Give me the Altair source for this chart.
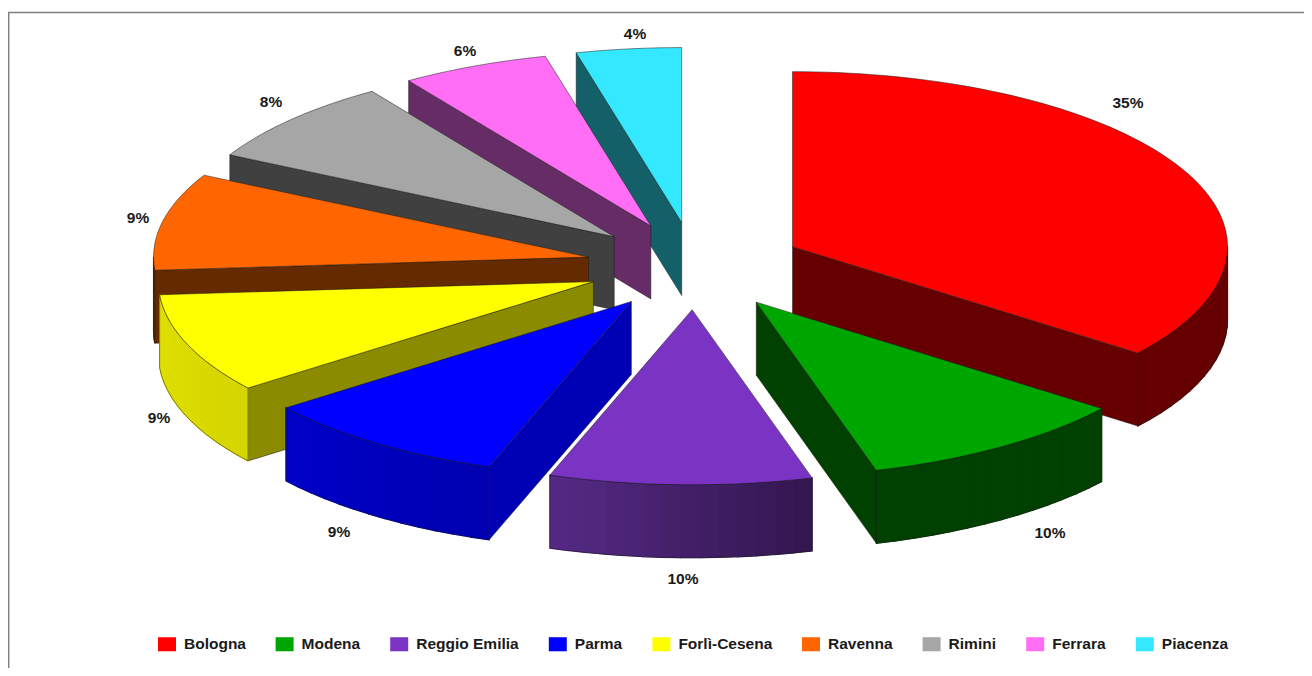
import math
import altair as alt

# ---- data ----
REGIONS = ["Bologna", "Modena", "Reggio Emilia", "Parma", "Forlì-Cesena", "Ravenna", "Rimini", "Ferrara", "Piacenza"]
SHARES = [35.4, 10.15, 9.75, 9.3, 9.2, 8.95, 7.85, 5.5, 3.9]

# ---- styles ----
TOP = ["#ff0000", "#00a600", "#7b33c4", "#0000ff", "#ffff00", "#ff6600", "#a6a6a6", "#ff6ef5", "#33e8ff"]
CUT = ["#660000", "#004000", "#33164f", "#0000b4", "#8b8b00", "#662a00", "#404040", "#662c66", "#146068"]
WALL_LEFT = ["#660000", "#004000", "#552a85", "#0000c8", "#dede00", "#662a00", "#404040", "#662c66", "#146068"]
WALL_RIGHT = ["#660000", "#004000", "#33164f", "#0000b0", "#d4d400", "#662a00", "#404040", "#662c66", "#146068"]

# ---- layout of the tilted pie ----
CX, CY, RX, RY, DEPTH, EXPLODE = 695, 266, 435, 175, 73, 0.25
PAINT_ORDER = [8, 7, 6, 5, 4, 3, 0, 1, 2]
LABEL_POS = [(1128, 102.5), (1050, 533), (683, 579), (339, 532), (159, 418), (138, 218), (271, 102), (465, 51), (635, 34)]
PROJ = dict(type="identity", scale=1, translate=[-8, -8])


def lerp_colour(c1, c2, f):
    a = [int(c1[i:i + 2], 16) for i in (1, 3, 5)]
    b = [int(c2[i:i + 2], 16) for i in (1, 3, 5)]
    return "#" + "".join(f"{round(p + (q - p) * f):02x}" for p, q in zip(a, b))


def feature(ring, fill, stroke, sw, fo=1):
    ring = [list(p) for p in ring]
    ring.append(ring[0])
    return {
        "type": "Feature",
        "geometry": {"type": "Polygon", "coordinates": [ring]},
        "properties": {"fill": fill, "stroke": stroke, "sw": sw, "fo": fo},
    }


def slice_features(i, start, end):
    mid = (start + end) / 2
    ax = CX + EXPLODE * RX * math.sin(mid)
    ay = CY - EXPLODE * RY * math.cos(mid)
    pos = lambda t: (ax + RX * math.sin(t), ay - RY * math.cos(t))
    down = lambda p: (p[0], p[1] + DEPTH)
    apex = (ax, ay)
    n = max(6, int((end - start) / math.radians(1.5)))
    arc = [pos(start + (end - start) * k / n) for k in range(n + 1)]
    edge = "#1a1a1a"
    out = []
    # only the cut faces that turn towards the viewer
    if math.sin(start) < -1e-6:
        out.append(feature([apex, arc[0], down(arc[0]), down(apex)], CUT[i], edge, 0.5))
    if math.sin(end) > 1e-6:
        out.append(feature([apex, arc[-1], down(arc[-1]), down(apex)], CUT[i], edge, 0.5))
    # outer wall: only the part on the near half of the rim
    w0, w1 = max(start, math.pi / 2), min(end, 3 * math.pi / 2)
    if w1 > w0:
        m = max(4, int((w1 - w0) / math.radians(2.5)))
        rim = [pos(w0 + (w1 - w0) * k / m) for k in range(m + 1)]
        xs = [p[0] for p in rim]
        lo, hi = min(xs), max(xs)
        for k in range(m):
            p, q = rim[k], rim[k + 1]
            f = ((p[0] + q[0]) / 2 - lo) / max(hi - lo, 1)
            col = lerp_colour(WALL_LEFT[i], WALL_RIGHT[i], f)
            out.append(feature([p, q, down(q), down(p)], col, col, 1.2))
        out.append(feature(rim + [down(p) for p in reversed(rim)], "#000000", edge, 0.5, 0))
    # top face
    out.append(feature([apex] + arc, TOP[i], edge, 0.5))
    return out


angles = []
acc = 0.0
total = sum(SHARES)
for s in SHARES:
    a0 = acc / total * 2 * math.pi
    acc += s
    angles.append((a0, acc / total * 2 * math.pi))

features = []
for i in PAINT_ORDER:
    features.extend(slice_features(i, *angles[i]))

pie = (
    alt.Chart(alt.Data(values=features))
    .mark_geoshape()
    .encode(
        fill=alt.Fill("properties.fill:N", scale=None, legend=None),
        stroke=alt.Stroke("properties.stroke:N", scale=None, legend=None),
        strokeWidth=alt.StrokeWidth("properties.sw:Q", scale=None, legend=None),
        fillOpacity=alt.FillOpacity("properties.fo:Q", scale=None, legend=None),
    )
    .project(**PROJ)
)

frame = (
    alt.Chart(alt.Data(values=[{
        "type": "Feature",
        "geometry": {"type": "LineString", "coordinates": [[8.7, 700], [8.7, 12.5], [1330, 12.5]]},
        "properties": {},
    }]))
    .mark_geoshape(filled=False, stroke="#808080", strokeWidth=1.5)
    .project(**PROJ)
)

labels = (
    alt.Chart(alt.Data(values=[
        {"t": f"{round(s)}%", "lon": p[0], "lat": p[1]} for s, p in zip(SHARES, LABEL_POS)
    ]))
    .mark_text(font="Liberation Sans", fontWeight="bold", fontSize=15.5, color="#1a1a1a", baseline="middle")
    .encode(longitude="lon:Q", latitude="lat:Q", text="t:N")
    .project(**PROJ)
)

legend_layer = (
    alt.Chart(alt.Data(values=[{"region": r} for r in REGIONS]))
    .mark_point(filled=True, size=0)
    .encode(
        color=alt.Color(
            "region:N",
            scale=alt.Scale(domain=REGIONS, range=TOP),
            sort=REGIONS,
            legend=alt.Legend(
                title=None,
                orient="none",
                legendX=150,
                legendY=627,
                direction="horizontal",
                columns=9,
                columnPadding=29.6,
                padding=0,
                symbolType="M-1,-0.78H1V0.78H-1Z",
                symbolSize=324,
                symbolStrokeWidth=0,
                symbolOpacity=1,
                labelFont="Liberation Sans",
                labelFontWeight="bold",
                labelFontSize=15.5,
                labelColor="#1a1a1a",
                labelOffset=8,
                labelLimit=200,
            ),
        )
    )
)

chart = (
    alt.layer(frame, pie, labels, legend_layer)
    .properties(width=1296, height=660, padding=0, autosize=alt.AutoSizeParams(type="none"), background="#ffffff")
    .configure_view(stroke=None)
)

chart.save("out.html", embed_options={"renderer": "svg", "actions": False})
